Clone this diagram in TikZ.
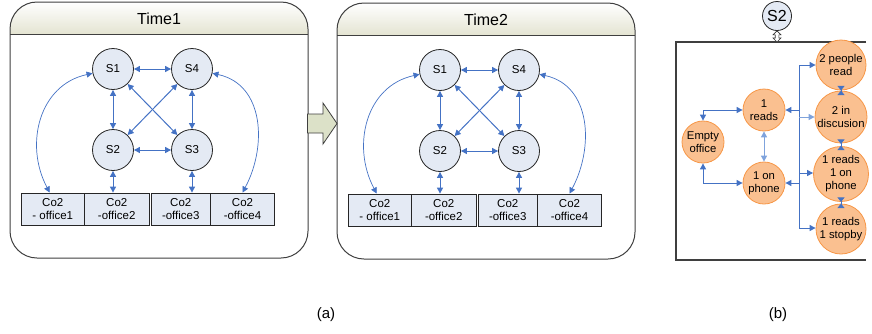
\documentclass[tikz,border=0pt]{standalone}
\usepackage{fontspec}
\setmainfont{Liberation Sans}
\usetikzlibrary{arrows.meta,calc}
\definecolor{ablue}{HTML}{4472C4}
\definecolor{lblue}{HTML}{7FA3DC}
\definecolor{cfill}{HTML}{E4EAF4}
\definecolor{hdr}{HTML}{E4E4D2}
\definecolor{pborder}{HTML}{3F3F3F}
\definecolor{ofill}{HTML}{FAC090}
\definecolor{oborder}{HTML}{F79646}
\definecolor{arfill}{HTML}{DCE1C8}
\tikzset{
 snode/.style={circle, draw=black!85, fill=cfill, line width=0.8pt, minimum size=41pt, inner sep=0pt, font=\fontsize{11.5}{13}\selectfont},
 obox/.style={draw=black!85, fill=cfill, line width=0.8pt, minimum height=32pt, inner sep=0pt, align=center, font=\fontsize{11.5}{12.5}\selectfont},
 conn/.style={ablue, line width=1pt, {Triangle[length=6pt,width=6pt]}-{Triangle[length=6pt,width=6pt]}},
 curvec/.style={conn, line width=0.7pt},
 onode/.style={circle, draw=oborder, fill=ofill, line width=0.8pt, inner sep=0pt, align=center, font=\fontsize{11.3}{13}\selectfont},
 tipr/.style={ablue, line width=1pt, -{Triangle[length=6pt,width=6pt]}},
 hg/.style={ablue, line width=1pt, {Triangle[reversed,length=4.5pt,width=7pt]}-{Triangle[reversed,length=4.5pt,width=7pt]}},
 lbl/.style={font=\fontsize{15}{17}\selectfont},
}
\newcommand\mypanel[8]{%
\begin{scope}[shift={(#2,#3)}]
 \begin{scope}
  \clip[rounded corners=27pt] (10,2) rectangle (308,258);
  \fill[top color=white, bottom color=hdr] (10,2) rectangle (308,34);
 \end{scope}
 \draw[pborder, line width=1pt, rounded corners=27pt] (10,2) rectangle (308,258);
 \draw[pborder, line width=1pt] (10,34) -- (308,34);
 \node[font=\fontsize{16}{18}\selectfont] (#1t) at (159,18.5) {#4};
 \node[snode] (#1s1) at (113,69) {S1};
 \node[snode] (#1s4) at (192,69) {S4};
 \node[snode] (#1s2) at (113,150) {S2};
 \node[snode] (#1s3) at (192,150) {S3};
 \node[obox, minimum width=63.5pt] (#1o1) at (52.75,209) {Co2\\#5};
 \node[obox, minimum width=64.5pt] (#1o2) at (116.75,209) {Co2\\#6};
 \node[obox, minimum width=59.5pt] (#1o3) at (180.75,209) {Co2\\#7};
 \node[obox, minimum width=64pt] (#1o4) at (242.5,209) {Co2\\#8};
 \draw[conn] (#1s1) -- (#1s4);
 \draw[conn] (#1s1) -- (#1s2);
 \draw[conn] (#1s4) -- (#1s3);
 \draw[conn] (#1s2) -- (#1s3);
 \draw[conn] (#1s1) -- (#1s3);
 \draw[conn] (#1s4) -- (#1s2);
 \draw[conn] (#1s2) -- (#1s2 |- #1o2.north);
 \draw[conn] (#1s3) -- (#1s3 |- #1o3.north);
 \draw[curvec] (#1s1) to[out=192,in=118,looseness=1.1] ([xshift=-3pt]#1o1.north);
 \draw[curvec] (#1s4) to[out=-12,in=62,looseness=1.1] (#1o4.north);
\end{scope}}
\begin{document}
\begin{tikzpicture}[x=1pt,y=-1pt]
\useasboundingbox (0,0) rectangle (872,333);
\mypanel{a}{0}{0}{Time1}{- office1}{-office2}{-office3}{-office4}
\mypanel{b}{327}{1}{Time2}{- office1}{-office2}{-office3}{-office4}
% block arrow between panels
\draw[pborder, fill=arfill, line width=0.8pt] (307.5,114) -- (323,114) -- (323,103) -- (337,123.5) -- (323,144) -- (323,133) -- (307.5,133) -- cycle;
% panel (b): box whose right side runs off the picture
\draw[pborder, line width=1.3pt] (866,42) -- (676,42) -- (676,260) -- (866,260);
\node[snode, minimum size=29pt, font=\fontsize{16}{18}\selectfont] (bs2) at (777,16) {S2};
\coordinate (btop) at (777,42);
% hollow double arrow from S2 to the box
\draw[black!80, fill=white, line width=0.6pt]
  (bs2.south) -- ++(4,4) -- ++(-2.2,0) -- ($(btop)+(1.8,-4)$) -- ++(2.2,0)
  -- (btop) -- ++(-4,-4) -- ++(2.2,0) -- ($(bs2.south)+(-1.8,4)$) -- ++(-2.2,0) -- cycle;
\node[onode, minimum size=42pt] (eo) at (703,142) {Empty\\office};
\node[onode, minimum size=42pt] (r1) at (764,110) {1\\reads};
\node[onode, minimum size=42pt] (p1) at (764,183) {1 on\\phone};
\node[onode, minimum size=50pt] (c1) at (841,65) {2 people\\read};
\node[onode, minimum size=52pt] (c2) at (841,117) {2 in\\discusion};
\node[onode, minimum size=55pt] (c3) at (841,174) {1 reads\\1 on\\phone};
\node[onode, minimum size=50pt] (c4) at (841,229) {1 reads\\1 stopby};
\coordinate (bb1) at (799,65);
\coordinate (bb4) at (799,228);
\draw[ablue, line width=1pt] (bb1) -- (bb4);
\draw[tipr] (bb1) -- (c1.west);
\draw[tipr, lblue] (bb1 |- c2.west) -- (c2.west);
\draw[tipr] (799,173) -- (c3.west |- 0,173);
\draw[tipr] (bb4) -- (c4.west |- bb4);
\draw[tipr] (bb1 |- r1.east) -- (r1.east);
\draw[tipr] (bb1 |- p1.east) -- (p1.east);
\draw[conn] (eo.north) |- (r1.west);
\draw[conn] (eo.south) |- (p1.west);
\draw[conn, lblue] (r1) -- (p1);
\draw[hg] ([yshift=4.5pt]c1.south) -- ([yshift=-4.5pt]c2.north);
\draw[hg] ([yshift=4pt]c2.south) -- ([yshift=-4pt]c3.north);
\draw[hg] ([yshift=4.5pt]c3.south) -- ([yshift=-4.5pt]c4.north);
% labels
\node[lbl] (la) at (326,315) {(a)};
\node[lbl] (lb) at (778,315) {(b)};
\end{tikzpicture}
\end{document}
